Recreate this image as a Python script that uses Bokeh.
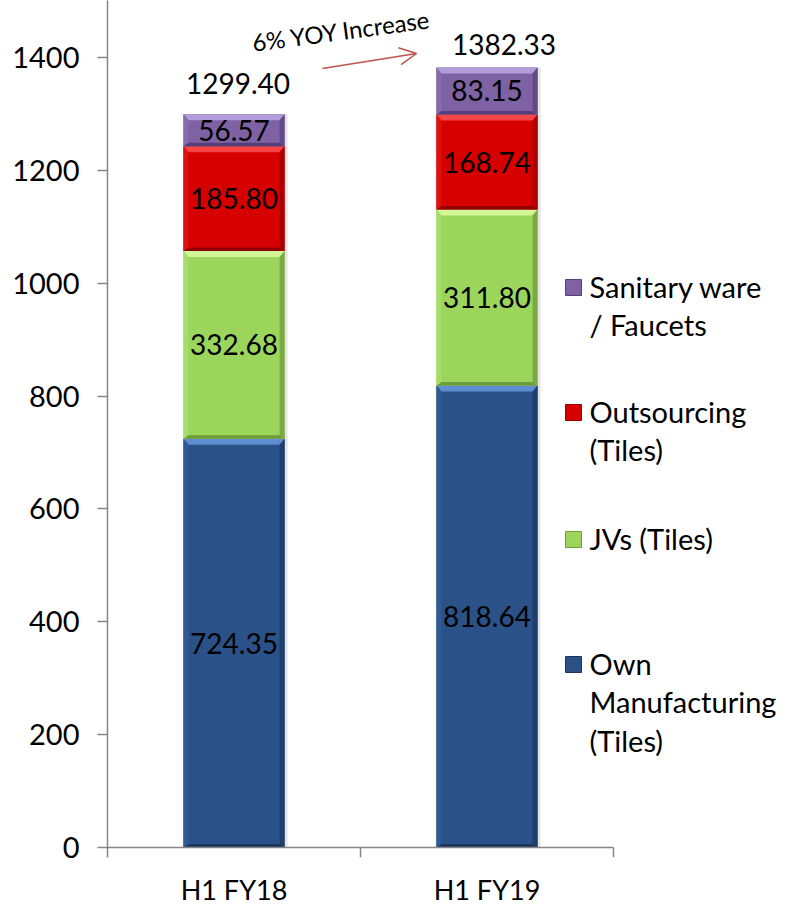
import math
from bokeh.plotting import figure
from bokeh.models import Range1d, FixedTicker, Arrow, OpenHead, ColumnDataSource
from bokeh.core.properties import value
from bokeh.embed import file_html
from bokeh.resources import INLINE

# ---------------- data ----------------
periods = ["H1 FY18", "H1 FY19"]
own_manufacturing = [724.35, 818.64]
jvs = [332.68, 311.80]
outsourcing = [185.80, 168.74]
sanitary = [56.57, 83.15]
totals = [1299.40, 1382.33]
series_names = ["Own\nManufacturing\n(Tiles)", "JVs (Tiles)", "Outsourcing\n(Tiles)", "Sanitary ware\n/ Faucets"]
annotation_text = "6% YOY Increase"
y_ticks = [0, 200, 400, 600, 800, 1000, 1200, 1400]

# ---------------- style / layout ----------------
FONT = "Lato"
base_cols = ["#2A5188", "#9CD55C", "#D60000", "#7E62A3"]
top_cols = ["#5F8DD2", "#D2F595", "#F54545", "#B29CDA"]
side_cols = ["#2F5A96", "#A6DD68", "#DE1010", "#876BAD"]
right_cols = ["#203F6C", "#7BAA44", "#AA0000", "#614A86"]
bot_cols = ["#1B355C", "#6E9C3A", "#930000", "#563F79"]
AXIS_COL = "#868686"

W, H = 798, 908
LEFT, BOTTOM = 107, 51
frame_w = W - LEFT
frame_h = H - BOTTOM
PITCH = 253                      # pixels per category
ZERO_PX = 10                     # pixels between frame bottom and y=0
k = 1400 / 790                   # data units per pixel
y_lo = -ZERO_PX * k
y_hi = (frame_h - ZERO_PX) * k
BAR_W = 0.40

def sx(px):   # screen x pixel -> data x
    return (px - LEFT) / PITCH

def sy(py):   # screen y pixel -> data y
    return (frame_h - ZERO_PX - py) * k

p = figure(frame_width=frame_w, frame_height=frame_h, title=None,
           x_range=Range1d(0, frame_w / PITCH),
           y_range=Range1d(y_lo, y_hi), output_backend="svg", toolbar_location=None,
           min_border_left=LEFT, min_border_right=0, min_border_top=0,
           min_border_bottom=0)
p.outline_line_color = None
p.grid.visible = False
p.background_fill_color = "white"

centers = [i + 0.5 for i in range(len(periods))]
series = [own_manufacturing, jvs, outsourcing, sanitary]

bx = 5 / PITCH
by = 5 * k
bottoms = [0.0] * len(periods)
label_x, label_y, label_t = [], [], []
for kk, vals in enumerate(series):
    tops = [b + v for b, v in zip(bottoms, vals)]
    src = ColumnDataSource(dict(x=centers, bottom=bottoms, top=tops))
    # soft shadow
    p.vbar(x=[c + 3 / PITCH for c in centers], bottom=bottoms, top=tops, width=BAR_W,
           fill_color="#000000", fill_alpha=0.10, line_color=None)
    p.vbar(x="x", bottom="bottom", top="top", width=BAR_W, source=src,
           fill_color=base_cols[kk], line_color=None)
    for part, col in (("top", top_cols[kk]), ("bottom", bot_cols[kk]),
                      ("left", side_cols[kk]), ("right", right_cols[kk])):
        xs, ys = [], []
        for c, y0, y1 in zip(centers, bottoms, tops):
            l, r = c - BAR_W / 2, c + BAR_W / 2
            t1, b1 = y1 - by * 1.2, y0 + by * 0.7
            if part == "top":
                xs.append([l, r, r - bx, l + bx]); ys.append([y1, y1, t1, t1])
            elif part == "bottom":
                xs.append([l, r, r - bx, l + bx]); ys.append([y0, y0, b1, b1])
            elif part == "left":
                xs.append([l, l, l + bx, l + bx]); ys.append([y0, y1, t1, b1])
            else:
                xs.append([r, r, r - bx, r - bx]); ys.append([y0, y1, t1, b1])
        p.patches(xs, ys, fill_color=col, line_color=None)
    for c, b, v in zip(centers, bottoms, vals):
        label_x.append(c); label_y.append(b + v / 2); label_t.append("%.2f" % v)
    bottoms = tops

p.text(x=label_x, y=label_y, text=label_t, text_font=value(FONT), text_font_size="28px",
       text_align="center", text_baseline="middle", text_color="black")

# totals
total_dx = [4, 17]
total_dy = [-20, -12]
p.text(x=centers, y=totals, text=["%.2f" % t for t in totals], x_offset=total_dx,
       y_offset=total_dy, text_font=value(FONT), text_font_size="28px",
       text_align="center", text_baseline="bottom", text_color="black")

# YOY annotation
p.text(x=[sx(341)], y=[sy(30)], text=[annotation_text], angle=math.radians(7.6),
       text_font=value(FONT), text_font_size="24px", text_align="center",
       text_baseline="middle", text_color="black")
p.add_layout(Arrow(end=OpenHead(size=17, line_color="#C0504D", line_width=1.5),
                   x_start=sx(322), y_start=sy(68), x_end=sx(416), y_end=sy(53),
                   line_color="#C0504D", line_width=1.5))

# y axis
ya = p.yaxis[0]
ya.ticker = FixedTicker(ticks=y_ticks)
ya.axis_line_color = AXIS_COL
ya.axis_line_width = 1.5
ya.major_tick_line_color = AXIS_COL
ya.major_tick_line_width = 1.5
ya.major_tick_in = 0
ya.major_tick_out = 10
ya.minor_tick_line_color = None
ya.major_label_text_font = FONT
ya.major_label_text_font_size = "29px"
ya.major_label_text_color = "black"
ya.major_label_standoff = 18

# x axis: category labels only, line and boundary ticks drawn as glyphs
xa = p.xaxis[0]
xa.ticker = FixedTicker(ticks=centers)
xa.major_label_overrides = {c: n for c, n in zip(centers, periods)}
xa.axis_line_color = None
xa.major_tick_line_color = None
xa.minor_tick_line_color = None
xa.major_label_text_font = FONT
xa.major_label_text_font_size = "27px"
xa.major_label_text_color = "black"
xa.major_label_standoff = 9

n = len(periods)
p.segment(x0=[0], y0=[0], x1=[n], y1=[0], line_color=AXIS_COL, line_width=1.5)
p.segment(x0=list(range(1, n + 1)), y0=[0] * n, x1=list(range(1, n + 1)), y1=[y_lo] * n,
          line_color=AXIS_COL, line_width=1.5)

# legend (drawn inside the wide frame)
leg_rows = [664, 539, 412, 287]   # first-line centre, screen px
LINE_PX = 38
p.rect(x=[sx(573)] * 4, y=[sy(r) for r in leg_rows], width=16, height=16,
       width_units="screen", height_units="screen", fill_color=base_cols,
       line_color=bot_cols, line_width=1)
p.text(x=[sx(589)] * 4, y=[sy(r - LINE_PX / 2) for r in leg_rows], text=series_names,
       text_font=value(FONT), text_font_size="29px", text_align="left",
       text_baseline="top", text_line_height=1.1, text_color="black")

open("out.html", "w").write(file_html(p, INLINE))
